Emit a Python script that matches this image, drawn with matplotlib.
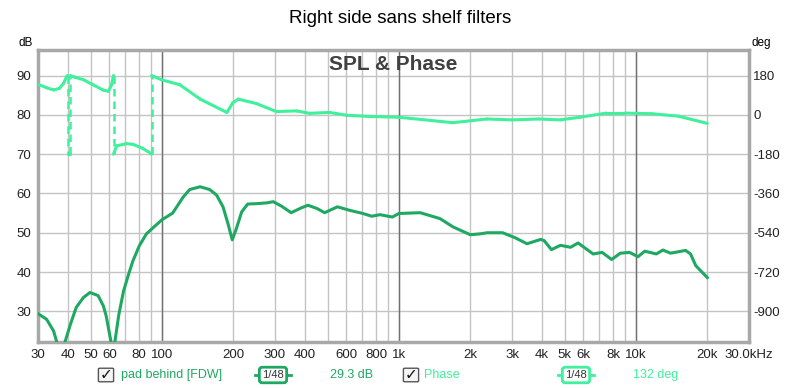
import numpy as np
import matplotlib.pyplot as plt
from matplotlib.patches import FancyBboxPatch
from matplotlib.lines import Line2D

plt.rcParams['font.family'] = ['Liberation Sans', 'DejaVu Sans']
plt.rcParams['axes.unicode_minus'] = False

# SPL 曲线 (Hz, dB)
spl_freq = [30, 32.6, 34.9, 36, 37, 38.2, 39, 41.1, 43.5, 46.6, 49.7, 53.8, 56.6, 58.2,
            61, 62, 63.3, 65.8, 68.9, 72.4, 75.5, 80.3, 86, 89.2, 100, 111, 123, 131, 145,
            159, 170, 181, 190, 198, 206, 217, 230, 250, 277, 295, 319, 351,
            383, 413, 450, 486, 550, 620, 705, 768, 832, 938, 1000, 1230, 1490, 1690,
            2000, 2190, 2360, 2740, 3100, 3470, 3960, 4100, 4400, 4800, 5300, 5700,
            6600, 7200, 7900, 8600, 9400, 10200, 10900, 12200, 13000, 14000, 16200,
            17000, 17900, 20000]
spl_db = [29.4, 28, 25, 22.2, 16, 16, 22.2, 26.7, 31, 33.5, 34.8, 34, 31.4, 28.8,
          22.2, 15, 22.2, 29.2, 35.2, 39.5, 42.9, 46.7, 49.7, 50.6, 53.3, 55, 59.1, 61, 61.7,
          61, 59.6, 56.6, 52.3, 48.2, 51, 55.3, 57.3, 57.4, 57.6, 57.9, 56.8, 55.1,
          56.2, 57, 56.2, 55.1, 56.6, 55.7, 54.9, 54.2, 54.6, 54, 54.9, 55.1, 53.6, 51.5,
          49.5, 49.7, 50, 50, 48.7, 47.2, 48.3, 48, 45.7, 46.8, 46.3, 47.4,
          44.6, 45, 43.2, 44.8, 45, 43.9, 45.3, 44.6, 45.6, 44.8, 45.5,
          44.6, 41.6, 38.6]

# 相位曲线 (Hz, deg)，±180 处折返
ph_freq = [30, 33, 35, 37, 38.5, 39.6, 40, 40, 41.1, 41.1, 43, 46.6, 51.4, 56.6, 59.5,
           61.3, 62.5, 62.5, 64.4, 70.9, 75.5, 82.8, 89.9, 90.5, 90.5, 100, 119, 145,
           188, 199, 210, 250, 304, 370, 420, 510, 604, 740, 1000,
           1690, 2350, 3000, 3900, 4800, 5800, 7500, 9000, 11700, 15100, 20000]
ph_deg = [140, 122, 114, 122, 145, 175, 180, -180, -180, 180, 172, 161, 137, 113, 108,
          137, 180, -180, -142, -132, -135, -153, -177, -180, 180, 160, 138, 72,
          11, 55, 72, 52, 15, 18, 7, 11, -2, -7, -11,
          -36, -19, -23, -19, -23, -11, 8, 8, 5, -6, -39]

xtick_vals = [30, 40, 50, 60, 80, 100, 200, 300, 400, 600, 800, 1000, 2000, 3000,
              4000, 5000, 6000, 8000, 10000, 20000, 30000]
xtick_labels = ['30', '40', '50', '60', '80', '100', '200', '300', '400', '600', '800',
                '1k', '2k', '3k', '4k', '5k', '6k', '8k', '10k', '20k', '30.0kHz']
db_ticks = [30, 40, 50, 60, 70, 80, 90]
deg_ticks = [180, 0, -180, -360, -540, -720, -900]

spl_color = '#1ea862'
ph_color = '#3ff09c'
ylo, yhi = 22.2, 96.5

fig = plt.figure(figsize=(8, 3.88), dpi=100)
ax = fig.add_axes([38/800, 46/388, 711/800, 292/388])
ax.set_xscale('log')
ax.set_xlim(30, 30000)
ax.set_ylim(ylo, yhi)

# 网格：每个整数频率一根
grid_f = [m * 10**e for e in range(1, 5) for m in range(1, 10)]
grid_f = [g for g in grid_f if 30 <= g <= 30000]
ax.set_xticks(grid_f)
ax.set_xticklabels([xtick_labels[xtick_vals.index(g)] if g in xtick_vals else '' for g in grid_f])
ax.xaxis.set_minor_locator(plt.NullLocator())
ax.set_yticks(db_ticks)
ax.grid(True, color='#c4c4c4', lw=1)
for d in [100, 1000, 10000]:
    ax.axvline(d, color='#707070', lw=1)
ax.tick_params(length=0, labelsize=9.5, colors='#222222')
ax.tick_params(axis='x', pad=5)
ax.tick_params(axis='y', pad=5)
for s in ax.spines.values():
    s.set_color('#a8a8a8')
    s.set_linewidth(2.5)

ax.plot(spl_freq, spl_db, color=spl_color, lw=2.2, zorder=3)

ax2 = ax.twinx()
ax2.set_ylim((ylo - 80) * 18, (yhi - 80) * 18)
ax2.set_yticks(deg_ticks)
ax2.tick_params(length=0, labelsize=9.5, colors='#222222', pad=3)
for s in ax2.spines.values():
    s.set_visible(False)

for i in range(len(ph_freq) - 1):
    f = ph_freq[i:i + 2]
    p = ph_deg[i:i + 2]
    if abs(p[1] - p[0]) > 300:
        ax2.plot(f, p, color=ph_color, lw=1.8, ls=(0, (3, 2)), zorder=3)
    else:
        ax2.plot(f, p, color=ph_color, lw=2.2, solid_capstyle='round', zorder=3)

fig.text(0.5, 0.953, 'Right side sans shelf filters', ha='center', va='center', fontsize=13.5)
fig.text(393/800, 1 - 65/388, 'SPL & Phase', ha='center', va='center', fontsize=15,
         fontweight='bold', color='#404040')
fig.text(33/800, 1 - 43/388, 'dB', ha='right', va='center', fontsize=8.5)
fig.text(751/800, 1 - 43/388, 'deg', ha='left', va='center', fontsize=8.5)

# 底部图例
ly = 1 - 375/388
def legend_item(xbox, label, xlab, xsm, val, xval, col):
    fig.add_artist(FancyBboxPatch((xbox/800, ly - 6/388), 12/800, 12/388,
                                  boxstyle='round,pad=0.002', fc='#f4f4f4', ec='#555555', lw=1))
    fig.text((xbox + 6)/800, ly, '✓', ha='center', va='center', fontsize=11,
             fontweight='bold', family='DejaVu Sans', color='#111111')
    fig.text(xlab/800, ly, label, ha='left', va='center', fontsize=9, color=col)
    fig.add_artist(Line2D([(xsm - 18)/800, (xsm + 18)/800], [ly, ly], color=col, lw=2))
    fig.text(xsm/800, ly, '1/48', ha='center', va='center', fontsize=8, color='#333333',
             bbox=dict(boxstyle='round,pad=0.25', fc='white', ec=col, lw=2))
    fig.text(xval/800, ly, val, ha='left', va='center', fontsize=9, color=col)

legend_item(100, 'pad behind [FDW]', 121, 273, '29.3 dB', 330, spl_color)
legend_item(405, 'Phase', 424, 576, '132 deg', 633, ph_color)

fig.savefig('out.png', dpi=100)
